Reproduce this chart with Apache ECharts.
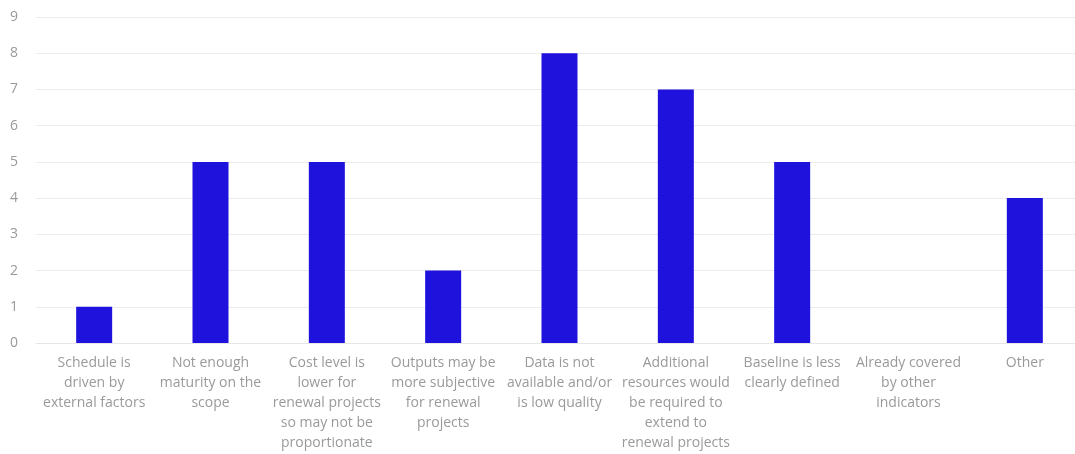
<!DOCTYPE html>
<html>
<head>
<meta charset="utf-8">
<script src="https://cdn.jsdelivr.net/npm/echarts@6/dist/echarts.min.js"></script>
<style>
  html, body { margin: 0; padding: 0; background: #fff; }
  #chart { width: 1075px; height: 454px; }
</style>
</head>
<body>
<div id="chart"></div>
<script>
var categories = [
    'Schedule is\ndriven by\nexternal factors',
    'Not enough\nmaturity on the\nscope',
    'Cost level is\nlower for\nrenewal projects\nso may not be\nproportionate',
    'Outputs may be\nmore subjective\nfor renewal\nprojects',
    'Data is not\navailable and/or\nis low quality',
    'Additional\nresources would\nbe required to\nextend to\nrenewal projects',
    'Baseline is less\nclearly defined',
    'Already covered\nby other\nindicators',
    'Other'
];
var counts = [1, 5, 5, 2, 8, 7, 5, 0, 4];
var yTicks = [0, 1, 2, 3, 4, 5, 6, 7, 8, 9];

var chart = echarts.init(document.getElementById('chart'));

var option = {
    animation: false,
    grid: {
        left: 36,
        top: 17,
        right: -8,
        height: 326,
        outerBoundsMode: 'none'
    },
    xAxis: {
        type: 'category',
        data: categories,
        axisLine: { lineStyle: { color: '#e6e6e6' } },
        axisTick: { show: false },
        axisLabel: {
            interval: 0,
            color: '#9a9a9a',
            fontFamily: 'Open Sans',
            fontSize: 14,
            lineHeight: 20,
            margin: 10
        }
    },
    yAxis: {
        type: 'value',
        min: yTicks[0],
        max: yTicks[yTicks.length - 1],
        interval: 1,
        axisLine: { show: false },
        axisTick: { show: false },
        splitLine: { lineStyle: { color: '#ececec' } },
        axisLabel: {
            color: '#9a9a9a',
            fontFamily: 'Open Sans',
            fontSize: 14,
            margin: 18
        }
    },
    series: [{
        type: 'bar',
        data: counts,
        barWidth: 36,
        itemStyle: { color: '#1f12dd' }
    }]
};

chart.setOption(option);
</script>
</body>
</html>
